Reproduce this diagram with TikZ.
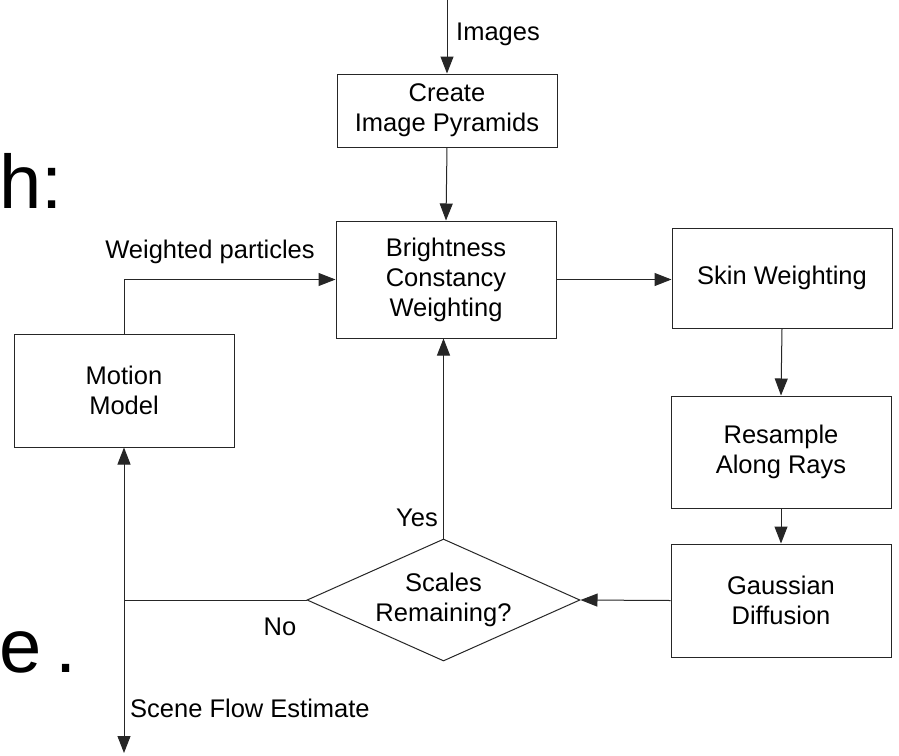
\documentclass[tikz,border=0pt]{standalone}
\usepackage{fontspec}
\setmainfont{Liberation Sans}
\usetikzlibrary{shapes.geometric,arrows.meta}
\begin{document}
\begin{tikzpicture}[x=1pt,y=-1pt,
  every node/.style={font=\fontsize{25.5}{30}\selectfont},
  box/.style={draw=black!85,line width=1pt,inner sep=0pt,align=center},
  lbl/.style={inner sep=0pt},
  big/.style={inner sep=0pt,font=\fontsize{76}{80}\selectfont},
  conn/.style={draw=black!85,line width=1pt},
  arr/.style={conn,-{Triangle[length=17pt,width=13pt]}}]
\path[use as bounding box,fill=white] (0,0) rectangle (899,755);

% slide text fragments
\node[big,anchor=base west] (h) at (-1,208) {h:};
\node[big,anchor=base west] (e) at (-1,672) {e\hspace{0.18em}.};

% boxes
\node[box,minimum width=220pt,minimum height=73pt] (create) at (447,110.5) {Create\\Image Pyramids};
\node[box,minimum width=220pt,minimum height=117pt] (bright) at (446,279.5) {Brightness\\Constancy\\Weighting};
\node[box,minimum width=220pt,minimum height=100pt] (skin) at (782,278) {Skin Weighting};
\node[box,minimum width=220pt,minimum height=112pt] (resample) at (781,452) {Resample\\Along Rays};
\node[box,minimum width=220pt,minimum height=113pt] (gauss) at (781,600.5) {Gaussian\\Diffusion};
\node[box,minimum width=220pt,minimum height=113pt] (motion) at (124,390.5) {Motion\\Model};
\node[box,shape=diamond,aspect=2.24,minimum width=273pt,minimum height=122pt] (dia) at (443.5,600) {Scales\\Remaining?};

% free ends
\coordinate (imgin) at (447,0);
\coordinate (junc) at (124,600);
\coordinate (out) at (124,753);

% connectors
\draw[arr] (imgin) -- (create.north);
\draw[arr] (create.south) -- (bright.north);
\draw[arr] (motion.north) |- (bright.west);
\draw[arr] (bright.east) -- (bright.east -| skin.west);
\draw[arr] (skin.south) -- (resample.north);
\draw[arr] (resample.south) -- (gauss.north);
\draw[arr] (gauss.west) -- (dia.east);
\draw[arr] (dia.north) -- (dia.north |- bright.south);
\draw[conn] (dia.west) -- (junc);
\draw[arr] (junc) -- (motion.south);
\draw[arr] (junc) -- (out);

% labels
\node[lbl,anchor=base west] (limages) at (456,40) {Images};
\node[lbl,anchor=base] (lweighted) at (210,258) {Weighted particles};
\node[lbl,anchor=base east] (lyes) at (438,526) {Yes};
\node[lbl,anchor=base] (lno) at (280,635) {No};
\node[lbl,anchor=base west] (lsfe) at (130,717) {Scene Flow Estimate};
\end{tikzpicture}
\end{document}
